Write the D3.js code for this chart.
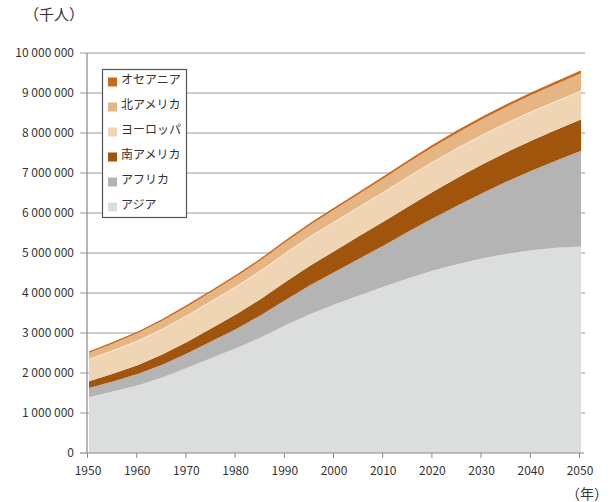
<!DOCTYPE html>
<html>
<head>
<meta charset="utf-8">
<script src="https://cdn.jsdelivr.net/npm/d3@7"></script>
<style>
  body { margin: 0; background: #fff; }
  text { font-family: "Noto Sans CJK JP", "Noto Sans", sans-serif; fill: #333; }
</style>
</head>
<body>
<div id="chart"></div>
<script>
// Population by region (thousands), 5-year steps
var years = [1950, 1955, 1960, 1965, 1970, 1975, 1980, 1985, 1990, 1995, 2000,
             2005, 2010, 2015, 2020, 2025, 2030, 2035, 2040, 2045, 2050];

var asia = [1395749, 1541947, 1694650, 1891634, 2129616, 2380331, 2627057, 2894883, 3199441, 3477139, 3717372,
            3944951, 4164252, 4375190, 4565521, 4727824, 4867741, 4982058, 5069963, 5130468, 5164061];
var africa = [228827, 254893, 284954, 321235, 366496, 418753, 482204, 556346, 634567, 721114, 814063,
              920468, 1031084, 1166239, 1312101, 1468002, 1634366, 1809432, 1993080, 2184643, 2393175];
var southAmerica = [167869, 191054, 220179, 252775, 286473, 323901, 363711, 404565, 445959, 487212, 526278,
                    563012, 596191, 630089, 661584, 690034, 713905, 733524, 750312, 764223, 781566];
var europe = [549043, 577487, 605517, 635034, 657402, 677031, 693453, 707132, 720594, 727408, 727986,
              730164, 738199, 742813, 743771, 741816, 736364, 729180, 721978, 715052, 709067];
var northAmerica = [171615, 186882, 204152, 219309, 231284, 242360, 254530, 266575, 280633, 296339, 313724,
                    328499, 346501, 361064, 374704, 387829, 399686, 410174, 419883, 432500, 446201];
var oceania = [12675, 14299, 15909, 17650, 19652, 21350, 22722, 24683, 26971, 29230, 31213,
               33457, 36659, 39359, 42128, 44875, 47487, 49965, 52314, 54571, 56874];

// bottom to top
var keys = ["アジア", "アフリカ", "南アメリカ", "ヨーロッパ", "北アメリカ", "オセアニア"];
var seriesData = [asia, africa, southAmerica, europe, northAmerica, oceania];
var colors = ["#dcdddd", "#b4b4b4", "#a0540c", "#f0d5b5", "#e5b584", "#c8691c"];

var yTicks = [0, 1000000, 2000000, 3000000, 4000000, 5000000, 6000000, 7000000, 8000000, 9000000, 10000000];
var xTicks = [1950, 1960, 1970, 1980, 1990, 2000, 2010, 2020, 2030, 2040, 2050];

var width = 612, height = 502;

var svg = d3.select("#chart").append("svg")
    .attr("width", width)
    .attr("height", height);

var x = d3.scaleLinear().domain([1950, 2050]).range([89, 581]);
var y = d3.scaleLinear().domain([0, 10000000]).range([453, 53]);

// table for the stack
var table = years.map(function(yr, i) {
    var row = {year: yr};
    keys.forEach(function(k, j) { row[k] = seriesData[j][i]; });
    return row;
});
var stacked = d3.stack().keys(keys)(table);

// Gridlines
svg.append("g").selectAll("line")
    .data(yTicks.slice(1))
  .enter().append("line")
    .attr("x1", 80).attr("x2", 585)
    .attr("y1", d => y(d)).attr("y2", d => y(d))
    .attr("stroke", "#999")
    .attr("stroke-width", 1.2);

// Areas
var area = d3.area()
    .x(d => x(d.data.year))
    .y0(d => y(d[0]))
    .y1(d => y(d[1]));

svg.append("g").selectAll("path")
    .data(stacked)
  .enter().append("path")
    .attr("d", area)
    .attr("fill", (d, i) => colors[i]);

// thin light line on top of Europe, orange edge on Oceania
var topLine = d3.line().x(d => x(d.data.year)).y(d => y(d[1]));
svg.append("path")
    .attr("d", topLine(stacked[3]))
    .attr("fill", "none").attr("stroke", "#fbf3ea").attr("stroke-width", 0.8);
svg.append("path")
    .attr("d", topLine(stacked[5]))
    .attr("fill", "none").attr("stroke", "#c8691c").attr("stroke-width", 1.2);

// Y axis
svg.append("line")
    .attr("x1", 87).attr("x2", 87).attr("y1", 53).attr("y2", 453)
    .attr("stroke", "#888").attr("stroke-width", 1.2);
svg.append("line")
    .attr("x1", 80).attr("x2", 87).attr("y1", 453).attr("y2", 453)
    .attr("stroke", "#888").attr("stroke-width", 1.2);

var fmt = function(v) { return d3.format(",")(v).replace(/,/g, " "); };
svg.append("g").selectAll("text")
    .data(yTicks)
  .enter().append("text")
    .attr("x", 74)
    .attr("y", d => y(d))
    .attr("dy", "0.35em")
    .attr("text-anchor", "end")
    .style("font-size", "12px")
    .text(d => fmt(d));

// X axis
svg.append("line")
    .attr("x1", 87).attr("x2", 584).attr("y1", 453).attr("y2", 453)
    .attr("stroke", "#888").attr("stroke-width", 1.2);
svg.append("g").selectAll("line")
    .data(xTicks)
  .enter().append("line")
    .attr("x1", d => x(d) - 1.5).attr("x2", d => x(d) - 1.5)
    .attr("y1", 453).attr("y2", 458)
    .attr("stroke", "#888");
svg.append("g").selectAll("text")
    .data(xTicks)
  .enter().append("text")
    .attr("x", d => x(d) - 1)
    .attr("y", 471)
    .attr("dy", "0.35em")
    .attr("text-anchor", "middle")
    .style("font-size", "12px")
    .text(d => d);

// unit labels
svg.append("text")
    .attr("x", 24).attr("y", 15).attr("dy", "0.35em")
    .style("font-size", "15px")
    .text("（千人）");
svg.append("text")
    .attr("x", 608).attr("y", 494).attr("dy", "0.35em")
    .attr("text-anchor", "end")
    .style("font-size", "14px")
    .text("（年）");

// Legend
var legend = svg.append("g");
legend.append("rect")
    .attr("x", 102.5).attr("y", 69.5).attr("width", 84).attr("height", 148)
    .attr("fill", "#fff").attr("stroke", "#555").attr("stroke-width", 1.2);

var legendKeys = keys.slice().reverse();
var legendColors = colors.slice().reverse();
var item = legend.selectAll("g.item")
    .data(legendKeys)
  .enter().append("g")
    .attr("class", "item")
    .attr("transform", (d, i) => "translate(108," + (82 + i * 25) + ")");
item.append("rect")
    .attr("x", 0).attr("y", -4.5).attr("width", 9).attr("height", 9)
    .attr("fill", (d, i) => legendColors[i]);
item.append("text")
    .attr("x", 13).attr("y", -2).attr("dy", "0.35em")
    .style("font-size", "12px")
    .text(d => d);
</script>
</body>
</html>
